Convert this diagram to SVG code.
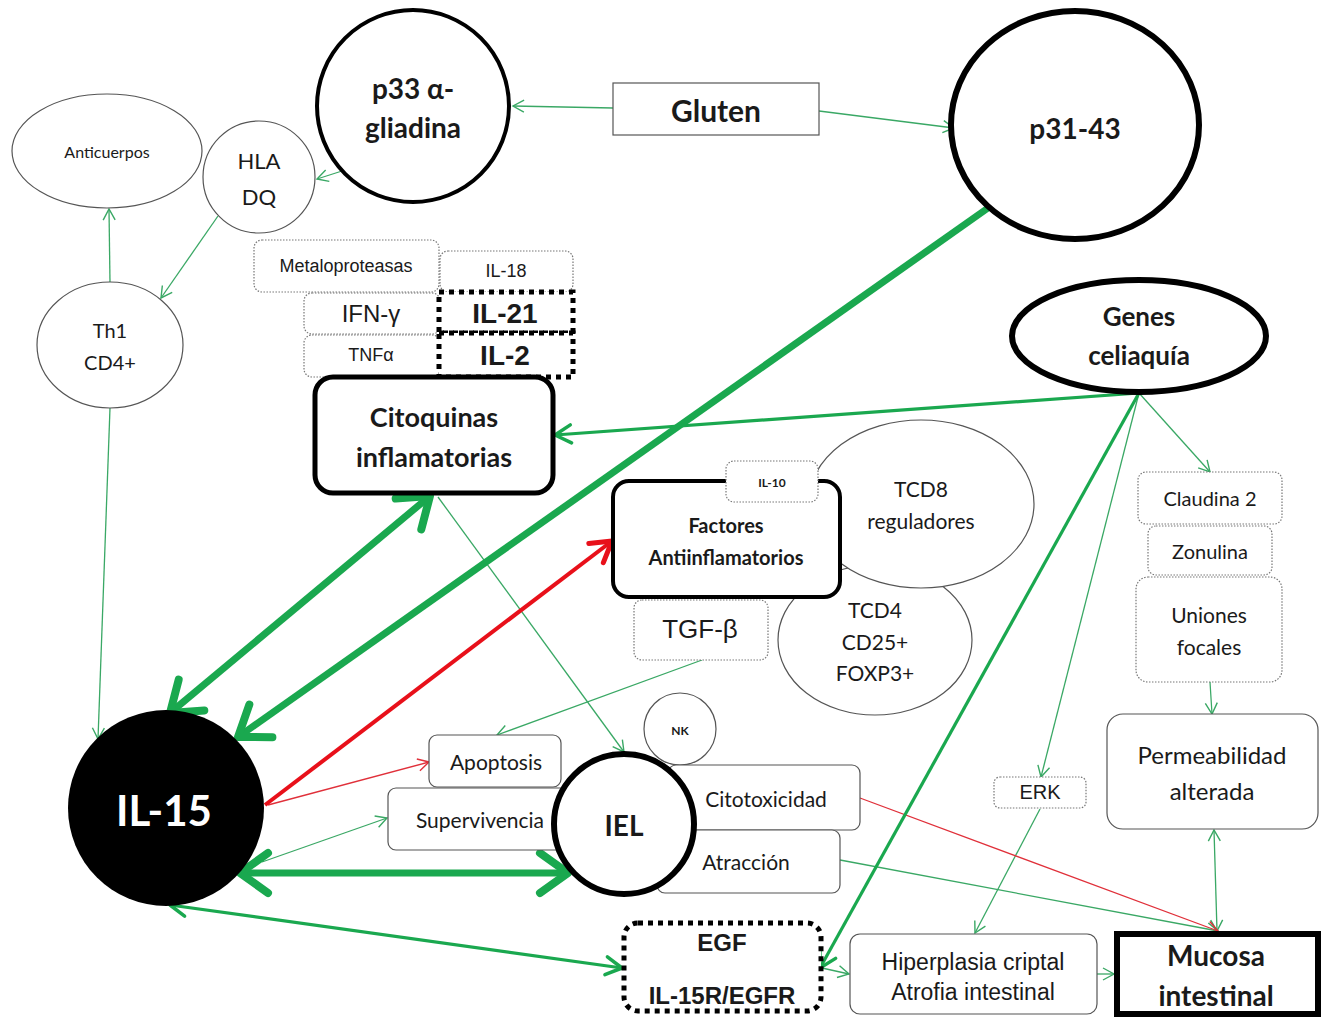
<svg xmlns="http://www.w3.org/2000/svg" width="1326" height="1017" viewBox="0 0 1326 1017">
<defs>
<style>
text{font-family:Lato,"Open Sans","Liberation Sans",sans-serif;fill:#1a1a1a;text-anchor:middle;dominant-baseline:central}
.ar{font-family:"Liberation Sans",Arial,sans-serif}
.b{font-weight:bold}
.thin{fill:#fff;stroke:#555;stroke-width:1.2}
.dot{fill:#fff;stroke:#777;stroke-width:1.2;stroke-dasharray:1.5 1.5}
.thick{fill:#fff;stroke:#000}
.bigdot{fill:#fff;stroke:#000;stroke-width:5;stroke-dasharray:5 5}
.g1{stroke:#3aa865;stroke-width:1.3;fill:none}
.r1{stroke:#e0303a;stroke-width:1.3;fill:none}
.g3{stroke:#1aa84f;stroke-width:3.2;fill:none}
.g7{stroke:#1aa84f;stroke-width:7;fill:none}
.r4{stroke:#e8101a;stroke-width:4;fill:none}
</style>
<marker id="mg1" markerUnits="userSpaceOnUse" orient="auto-start-reverse" refX="11" refY="0" markerWidth="20" markerHeight="20" overflow="visible"><path d="M0,-6 L11,0 L0,6" fill="none" stroke="#3aa865" stroke-width="1.4"/></marker>
<marker id="mr1" markerUnits="userSpaceOnUse" orient="auto-start-reverse" refX="11" refY="0" markerWidth="20" markerHeight="20" overflow="visible"><path d="M0,-6 L11,0 L0,6" fill="none" stroke="#e0303a" stroke-width="1.4"/></marker>
<marker id="mg3" markerUnits="userSpaceOnUse" orient="auto-start-reverse" refX="16" refY="0" markerWidth="30" markerHeight="30" overflow="visible"><path d="M0,-9 L16,0 L0,9" fill="none" stroke="#1aa84f" stroke-width="3.5" stroke-linecap="round" stroke-linejoin="round"/></marker>
<marker id="mr4" markerUnits="userSpaceOnUse" orient="auto-start-reverse" refX="20" refY="0" markerWidth="40" markerHeight="40" overflow="visible"><path d="M0,-12 L20,0 L0,12" fill="none" stroke="#e8101a" stroke-width="5" stroke-linecap="round" stroke-linejoin="round"/></marker>
<marker id="mg7" markerUnits="userSpaceOnUse" orient="auto-start-reverse" refX="28" refY="0" markerWidth="60" markerHeight="60" overflow="visible"><path d="M0,-20 L28,0 L0,20" fill="none" stroke="#1aa84f" stroke-width="8" stroke-linecap="round" stroke-linejoin="round"/></marker>
</defs>
<rect width="1326" height="1017" fill="#fff"/>

<g id="connectors">
<line class="g1" x1="613" y1="108" x2="513" y2="106" marker-end="url(#mg1)"/>
<line class="g1" x1="819" y1="111" x2="954" y2="128" marker-end="url(#mg1)"/>
<line class="g1" x1="342" y1="171" x2="317" y2="179" marker-end="url(#mg1)"/>
<line class="g1" x1="218" y1="216" x2="161" y2="298" marker-end="url(#mg1)"/>
<line class="g1" x1="110" y1="283" x2="109" y2="209" marker-end="url(#mg1)"/>
<line class="g1" x1="110" y1="408" x2="98" y2="739" marker-end="url(#mg1)"/>
<line class="g1" x1="438" y1="497" x2="624" y2="752" marker-end="url(#mg1)"/>
<line class="g1" x1="702" y1="660" x2="497" y2="735" marker-end="url(#mg1)"/>
<line class="g1" x1="1139" y1="393" x2="1210" y2="472" marker-end="url(#mg1)"/>
<line class="g1" x1="1139" y1="393" x2="1041" y2="777" marker-end="url(#mg1)"/>
<line class="g1" x1="1040" y1="809" x2="975" y2="933" marker-end="url(#mg1)"/>
<line class="g1" x1="1210" y1="682" x2="1212" y2="714" marker-end="url(#mg1)"/>
<line class="g1" x1="1214" y1="830" x2="1217" y2="931" marker-start="url(#mg1)" marker-end="url(#mg1)"/>
<line class="g1" x1="840" y1="860" x2="1218" y2="931" marker-end="url(#mg1)"/>
<line class="r1" x1="860" y1="798" x2="1218" y2="931" marker-end="url(#mr1)"/>
<line class="g1" x1="822" y1="968" x2="849" y2="974" marker-end="url(#mg1)"/>
<line class="g1" x1="1097" y1="974" x2="1114" y2="974" marker-end="url(#mg1)"/>
<line class="g1" x1="262" y1="862" x2="387" y2="818" marker-end="url(#mg1)"/>
<line class="r1" x1="268" y1="805" x2="429" y2="762" marker-end="url(#mr1)"/>
<line class="g3" x1="1139" y1="393" x2="555" y2="435" marker-end="url(#mg3)"/>
<line class="g3" x1="1139" y1="393" x2="820" y2="968" marker-end="url(#mg3)"/>
<line class="g3" x1="170" y1="905" x2="622" y2="968" marker-start="url(#mg3)" marker-end="url(#mg3)"/>
<line class="r4" x1="265" y1="805" x2="612" y2="541" marker-end="url(#mr4)"/>
<line class="g7" x1="988" y1="208" x2="238" y2="737" marker-end="url(#mg7)"/>
<line class="g7" x1="430" y1="496" x2="170" y2="713" marker-start="url(#mg7)" marker-end="url(#mg7)"/>
<line class="g7" x1="240" y1="873" x2="568" y2="873" marker-start="url(#mg7)" marker-end="url(#mg7)"/>
</g>

<g id="anticuerpos"><ellipse class="thin" cx="107" cy="151" rx="95" ry="57"/><text x="107" y="151" font-size="16">Anticuerpos</text></g>
<g id="hladq"><circle class="thin" cx="259" cy="177" r="56"/><text x="259" y="160" font-size="22">HLA</text><text x="259" y="196" font-size="22">DQ</text></g>
<g id="th1"><ellipse class="thin" cx="110" cy="345" rx="73" ry="63"/><text x="110" y="330" font-size="20">Th1</text><text x="110" y="362" font-size="20">CD4+</text></g>
<g id="p33"><circle class="thick" stroke-width="4" cx="413" cy="106" r="96"/><text class="b" x="413" y="88" font-size="28">p33 α-</text><text class="b" x="413" y="127" font-size="28">gliadina</text></g>
<g id="gluten"><rect class="thin" x="613" y="83" width="206" height="52"/><text class="b" x="716" y="110" font-size="30">Gluten</text></g>
<g id="p3143"><ellipse class="thick" stroke-width="6" cx="1075" cy="125" rx="124" ry="114"/><text class="b" x="1075" y="128" font-size="28">p31-43</text></g>

<g id="metaloproteasas"><rect class="dot" x="254" y="240" width="185" height="52" rx="8"/><text class="ar" x="346" y="266" font-size="18">Metaloproteasas</text></g>
<g id="il18"><rect class="dot" x="440" y="251" width="133" height="41" rx="8"/><text class="ar" x="506" y="271" font-size="18">IL-18</text></g>
<g id="ifng"><rect class="dot" x="304" y="293" width="136" height="41" rx="8"/><text class="ar" x="371" y="313" font-size="24">IFN-γ</text></g>
<g id="tnfa"><rect class="dot" x="304" y="335" width="136" height="42" rx="8"/><text class="ar" x="371" y="355" font-size="18">TNFα</text></g>
<g id="il21"><rect class="bigdot" x="439" y="292" width="134" height="41"/><text class="ar b" x="505" y="313" font-size="28">IL-21</text></g>
<g id="il2"><rect class="bigdot" x="439" y="333" width="134" height="44"/><text class="ar b" x="505" y="355" font-size="28">IL-2</text></g>
<g id="citoquinas"><rect class="thick" stroke-width="5" x="315" y="377" width="238" height="116" rx="18"/><text class="b" x="434" y="416" font-size="27">Citoquinas</text><text class="b" x="434" y="456" font-size="27">inflamatorias</text></g>

<g id="genes"><ellipse class="thick" stroke-width="6" cx="1139" cy="336" rx="127" ry="56"/><text class="b" x="1139" y="316" font-size="26">Genes</text><text class="b" x="1139" y="355" font-size="26">celiaquía</text></g>

<g id="tcd4"><ellipse class="thin" cx="875" cy="640" rx="97" ry="75"/><text x="875" y="609" font-size="21">TCD4</text><text x="875" y="641" font-size="21">CD25+</text><text x="875" y="672" font-size="21">FOXP3+</text></g>
<g id="tcd8"><ellipse class="thin" cx="921" cy="504" rx="113" ry="84"/><text x="921" y="488" font-size="21">TCD8</text><text x="921" y="520" font-size="21">reguladores</text></g>
<g id="factores"><rect class="thick" stroke-width="4" x="613" y="481" width="227" height="116" rx="16"/><text class="b" x="726" y="525" font-size="20">Factores</text><text class="b" x="726" y="557" font-size="20">Antiinflamatorios</text></g>
<g id="il10"><rect class="dot" x="726" y="461" width="92" height="41" rx="8"/><text class="b" x="772" y="482" font-size="12">IL-10</text></g>
<g id="tgfb"><rect class="dot" x="634" y="600" width="134" height="60" rx="8"/><text class="ar" x="700" y="629" font-size="26">TGF-β</text></g>

<g id="claudina"><rect class="dot" x="1138" y="472" width="144" height="52" rx="8"/><text x="1210" y="498" font-size="20">Claudina 2</text></g>
<g id="zonulina"><rect class="dot" x="1148" y="526" width="124" height="49" rx="8"/><text x="1210" y="551" font-size="20">Zonulina</text></g>
<g id="uniones"><rect class="dot" x="1136" y="577" width="146" height="105" rx="12"/><text x="1209" y="614" font-size="21">Uniones</text><text x="1209" y="646" font-size="21">focales</text></g>
<g id="permeabilidad"><rect class="thin" x="1107" y="714" width="211" height="115" rx="16"/><text x="1212" y="754" font-size="24">Permeabilidad</text><text x="1212" y="790" font-size="24">alterada</text></g>
<g id="erk"><rect class="dot" x="994" y="777" width="92" height="31" rx="6"/><text class="ar" x="1040" y="792" font-size="20">ERK</text></g>

<g id="nk"><circle class="thin" cx="680" cy="729" r="36"/><text class="b" x="680" y="730" font-size="12">NK</text></g>
<g id="apoptosis"><rect class="thin" x="429" y="735" width="132" height="52" rx="8"/><text x="496" y="761" font-size="21">Apoptosis</text></g>
<g id="supervivencia"><rect class="thin" x="388" y="788" width="190" height="62" rx="8"/><text x="480" y="819" font-size="21">Supervivencia</text></g>
<g id="citotoxicidad"><rect class="thin" x="668" y="765" width="192" height="65" rx="8"/><text x="766" y="798" font-size="21">Citotoxicidad</text></g>
<g id="atraccion"><rect class="thin" x="657" y="830" width="183" height="63" rx="8"/><text x="746" y="861" font-size="21">Atracción</text></g>
<g id="iel"><circle class="thick" stroke-width="6" cx="624" cy="824" r="70"/><text class="b" x="624" y="825" font-size="28">IEL</text></g>

<g id="il15"><circle cx="166" cy="808" r="98" fill="#000"/><text class="b" x="164" y="810" font-size="42" style="fill:#fff">IL-15</text></g>

<g id="egf"><rect class="bigdot" x="624" y="923" width="197" height="88" rx="14"/><text class="ar b" x="722" y="942" font-size="24">EGF</text><text class="ar b" x="722" y="995" font-size="24">IL-15R/EGFR</text></g>
<g id="hiperplasia"><rect class="thin" x="850" y="934" width="247" height="80" rx="10"/><text class="ar" x="973" y="962" font-size="23">Hiperplasia criptal</text><text class="ar" x="973" y="992" font-size="23">Atrofia intestinal</text></g>
<g id="mucosa"><rect class="thick" stroke-width="6" x="1117" y="934" width="201" height="80"/><text class="b" x="1216" y="955" font-size="28">Mucosa</text><text class="b" x="1216" y="995" font-size="28">intestinal</text></g>
</svg>
